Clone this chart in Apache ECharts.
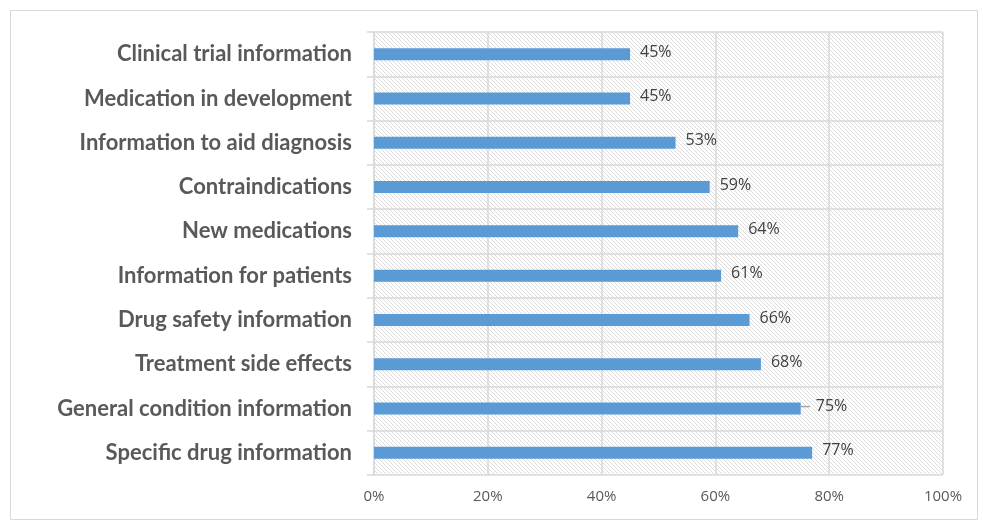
<!DOCTYPE html>
<html><head><meta charset="utf-8">
<script src="https://cdn.jsdelivr.net/npm/echarts@6/dist/echarts.min.js"></script>
<style>html,body{margin:0;padding:0;background:#fff}#c{width:983px;height:524px}</style>
</head><body><div id="c"></div>
<script>
const categories = ["Clinical trial information","Medication in development","Information to aid diagnosis","Contraindications","New medications","Information for patients","Drug safety information","Treatment side effects","General condition information","Specific drug information"];
const values = [45,45,53,59,64,61,66,68,75,77];
const xTicks = [0,20,40,60,80,100];
const movedLabelIndex = 8;

const pc = document.createElement('canvas');
pc.width = 4; pc.height = 4;
const g = pc.getContext('2d');
g.fillStyle = '#ffffff'; g.fillRect(0,0,4,4);
g.fillStyle = '#dcdcdc';
for (let i=0;i<4;i++) g.fillRect(i,i,1,1);

const seriesData = values.map((v,i)=> i===movedLabelIndex
  ? {value:v, label:{distance:0, formatter:'{l|}{t|'+v+'%}'}}
  : {value:v});

const chart = echarts.init(document.getElementById('c'), null, {renderer:'canvas'});
chart.setOption({
  animation:false,
  backgroundColor:'#fff',
  graphic:[{type:'rect',shape:{x:10.5,y:10.5,width:967,height:509},style:{fill:'none',stroke:'#d9d9d9',lineWidth:1}}],
  grid:{left:374,right:40,top:32,bottom:49,show:true,backgroundColor:{image:pc,repeat:'repeat'},borderWidth:0},
  xAxis:{type:'value',min:0,max:100,interval:20,
    axisLabel:{formatter:v=>v+'%',color:'#595959',fontFamily:'Open Sans',fontSize:15,margin:14},
    splitLine:{lineStyle:{color:'#d9d9d9',width:1.5}},axisLine:{show:false},axisTick:{show:false}},
  yAxis:{type:'category',inverse:true,data:categories,
    axisLabel:{color:'#595959',fontFamily:'Lato',fontWeight:'bold',fontSize:22,margin:22},
    axisLine:{show:true,lineStyle:{color:'#d9d9d9',width:1.5}},
    axisTick:{show:true,length:7,lineStyle:{color:'#d9d9d9',width:1.5}},
    splitLine:{show:true,lineStyle:{color:'#d9d9d9',width:1.5}}},
  series:[{type:'bar',data:seriesData,barWidth:12,itemStyle:{color:'#5b9bd5'},
    label:{show:true,position:'right',distance:10,offset:[0,-2],formatter:p=>p.value+'%',color:'#404040',fontFamily:'Open Sans',fontSize:16,
      rich:{l:{width:9,height:1.5,backgroundColor:'#a6a6a6'},t:{padding:[0,0,0,6],color:'#404040',fontFamily:'Open Sans',fontSize:16}}},
    labelLine:{show:false}
  }]
});
</script></body></html>
